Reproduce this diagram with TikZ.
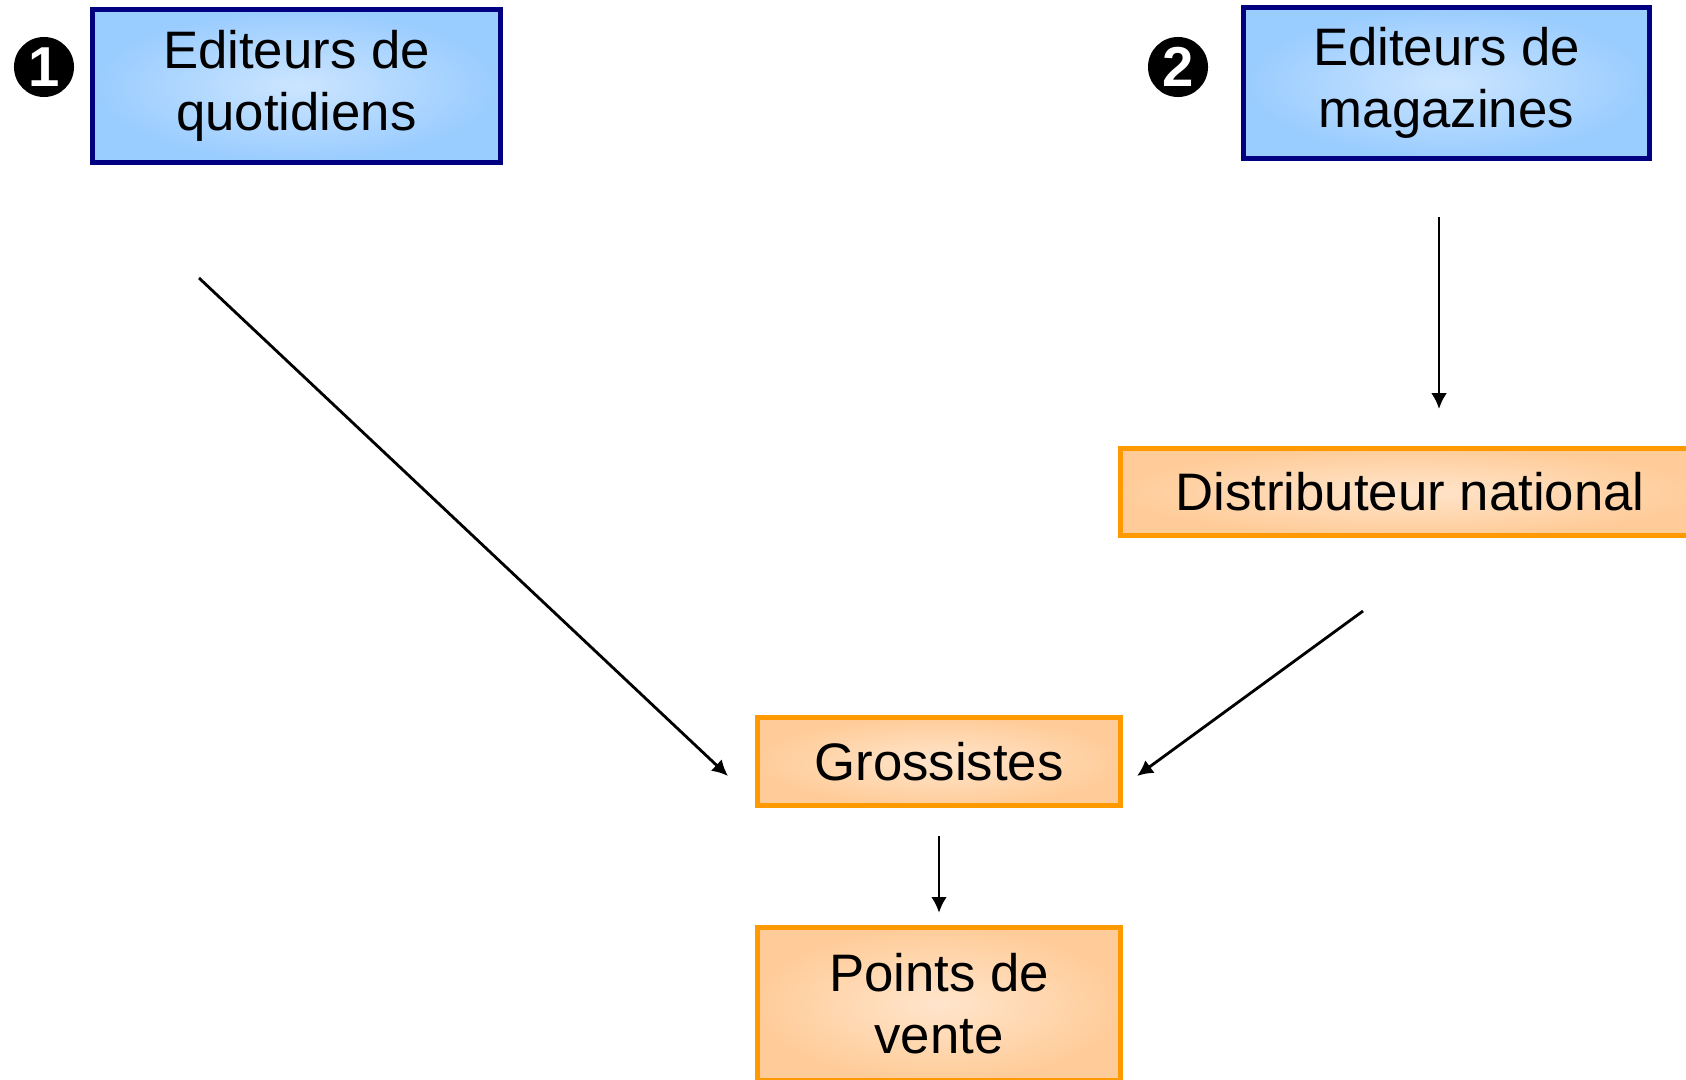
\documentclass[tikz,border=0pt]{standalone}
\usepackage{fontspec}
\setmainfont{Liberation Sans}
\usetikzlibrary{arrows.meta}
\definecolor{navyline}{HTML}{000080}
\definecolor{blueout}{HTML}{99CCFF}
\definecolor{bluein}{HTML}{CCE5FF}
\definecolor{orangeline}{HTML}{FF9900}
\definecolor{orangeout}{HTML}{FFCC99}
\definecolor{orangein}{HTML}{FFE5CC}
\tikzset{
  >={Latex[length=4.5pt,width=4.5pt]},
  {base box/.style} ={rectangle, line width=1.5pt, align=center,
                     inner sep=0, font=\fontsize{15}{17.6}\selectfont,
                     shading=radial},
  {editor box/.style} ={base box, draw=navyline,
                     inner color=bluein, outer color=blueout},
  {trade box/.style} ={base box, draw=orangeline,
                     inner color=orangein, outer color=orangeout},
  {num disc/.style} ={circle, fill=black, text=white, inner sep=0,
                     minimum size=0.6cm,
                     font=\fontsize{16}{16}\selectfont\bfseries},
  {flow/.style} ={draw, line width=0.8pt, ->},
}

\begin{document}
\begin{tikzpicture}[x=0.01cm,y=-0.01cm]
\useasboundingbox (0,0) rectangle (1686,1079);
\clip (0,0) rectangle (1686,1079);
% publishers
\node[num disc] (n1) at (44,67) {1};
\node[editor box, minimum width=4.08cm, minimum height=1.53cm]
  (quot) at (296.5,86) {Editeurs de\\quotidiens};
\node[num disc] (n2) at (1178,67) {2};
\node[editor box, minimum width=4.06cm, minimum height=1.51cm]
  (mag) at (1446.5,83) {Editeurs de\\magazines};
% distribution
\node[trade box, minimum width=5.79cm, minimum height=0.87cm]
  (nat) at (1410,492) {Distributeur national};
\node[trade box, minimum width=3.63cm, minimum height=0.88cm]
  (gros) at (939,761.5) {Grossistes};
\node[trade box, minimum width=3.63cm, minimum height=1.53cm]
  (pts) at (939,1004) {Points de\\vente};
% arrow ends
\coordinate (q1) at (199,278);
\coordinate (q2) at (728,776);
\coordinate (m1) at (1439,217);
\coordinate (m2) at (1439,409);
\coordinate (d1) at (1363,611);
\coordinate (d2) at (1137,776);
\path[flow] (q1) -- (q2);
\path[flow] (m1) -- (m2);
\path[flow] (d1) -- (d2);
\path[flow, shorten <=0.28cm, shorten >=0.12cm] (gros.south) -- (pts.north);
\end{tikzpicture}
\end{document}
